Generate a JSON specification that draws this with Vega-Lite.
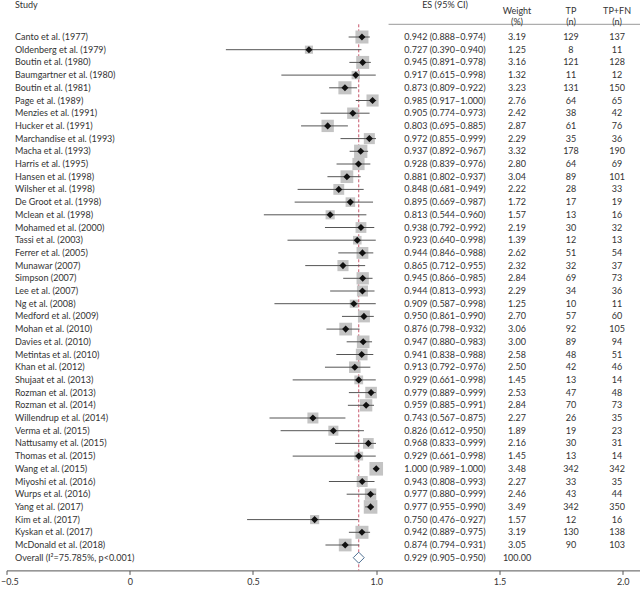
{
  "$schema": "https://vega.github.io/schema/vega-lite/v6.json",
  "autosize": "none",
  "width": 633.5,
  "height": 558.8,
  "padding": {"left": 6.5, "top": 11.6, "right": 0, "bottom": 20.6},
  "background": "white",
  "config": {
    "view": {"stroke": null},
    "text": {"font": "Lato", "fontSize": 9, "color": "#333"},
    "axis": {"grid": false, "labelFont": "Lato", "labelFontSize": 9, "labelColor": "#333", "domainColor": "#555", "tickColor": "#555", "tickSize": 4, "labelPadding": 3}
  },
  "datasets": {
    "rows": [
      {"study": "Canto et al. (1977)", "kind": "study", "es": 0.942, "lo": 0.888, "hi": 0.974, "ci": "0.942 (0.888–0.974)", "w": 3.19, "tp": 129, "n": 137},
      {"study": "Oldenberg et al. (1979)", "kind": "study", "es": 0.727, "lo": 0.390, "hi": 0.940, "ci": "0.727 (0.390–0.940)", "w": 1.25, "tp": 8, "n": 11},
      {"study": "Boutin et al. (1980)", "kind": "study", "es": 0.945, "lo": 0.891, "hi": 0.978, "ci": "0.945 (0.891–0.978)", "w": 3.16, "tp": 121, "n": 128},
      {"study": "Baumgartner et al. (1980)", "kind": "study", "es": 0.917, "lo": 0.615, "hi": 0.998, "ci": "0.917 (0.615–0.998)", "w": 1.32, "tp": 11, "n": 12},
      {"study": "Boutin et al. (1981)", "kind": "study", "es": 0.873, "lo": 0.809, "hi": 0.922, "ci": "0.873 (0.809–0.922)", "w": 3.23, "tp": 131, "n": 150},
      {"study": "Page et al. (1989)", "kind": "study", "es": 0.985, "lo": 0.917, "hi": 1.000, "ci": "0.985 (0.917–1.000)", "w": 2.76, "tp": 64, "n": 65},
      {"study": "Menzies et al. (1991)", "kind": "study", "es": 0.905, "lo": 0.774, "hi": 0.973, "ci": "0.905 (0.774–0.973)", "w": 2.42, "tp": 38, "n": 42},
      {"study": "Hucker et al. (1991)", "kind": "study", "es": 0.803, "lo": 0.695, "hi": 0.885, "ci": "0.803 (0.695–0.885)", "w": 2.87, "tp": 61, "n": 76},
      {"study": "Marchandise et al. (1993)", "kind": "study", "es": 0.972, "lo": 0.855, "hi": 0.999, "ci": "0.972 (0.855–0.999)", "w": 2.29, "tp": 35, "n": 36},
      {"study": "Macha et al. (1993)", "kind": "study", "es": 0.937, "lo": 0.892, "hi": 0.967, "ci": "0.937 (0.892–0.967)", "w": 3.32, "tp": 178, "n": 190},
      {"study": "Harris et al. (1995)", "kind": "study", "es": 0.928, "lo": 0.839, "hi": 0.976, "ci": "0.928 (0.839–0.976)", "w": 2.80, "tp": 64, "n": 69},
      {"study": "Hansen et al. (1998)", "kind": "study", "es": 0.881, "lo": 0.802, "hi": 0.937, "ci": "0.881 (0.802–0.937)", "w": 3.04, "tp": 89, "n": 101},
      {"study": "Wilsher et al. (1998)", "kind": "study", "es": 0.848, "lo": 0.681, "hi": 0.949, "ci": "0.848 (0.681–0.949)", "w": 2.22, "tp": 28, "n": 33},
      {"study": "De Groot et al. (1998)", "kind": "study", "es": 0.895, "lo": 0.669, "hi": 0.987, "ci": "0.895 (0.669–0.987)", "w": 1.72, "tp": 17, "n": 19},
      {"study": "Mclean et al. (1998)", "kind": "study", "es": 0.813, "lo": 0.544, "hi": 0.960, "ci": "0.813 (0.544–0.960)", "w": 1.57, "tp": 13, "n": 16},
      {"study": "Mohamed et al. (2000)", "kind": "study", "es": 0.938, "lo": 0.792, "hi": 0.992, "ci": "0.938 (0.792–0.992)", "w": 2.19, "tp": 30, "n": 32},
      {"study": "Tassi et al. (2003)", "kind": "study", "es": 0.923, "lo": 0.640, "hi": 0.998, "ci": "0.923 (0.640–0.998)", "w": 1.39, "tp": 12, "n": 13},
      {"study": "Ferrer et al. (2005)", "kind": "study", "es": 0.944, "lo": 0.846, "hi": 0.988, "ci": "0.944 (0.846–0.988)", "w": 2.62, "tp": 51, "n": 54},
      {"study": "Munawar (2007)", "kind": "study", "es": 0.865, "lo": 0.712, "hi": 0.955, "ci": "0.865 (0.712–0.955)", "w": 2.32, "tp": 32, "n": 37},
      {"study": "Simpson (2007)", "kind": "study", "es": 0.945, "lo": 0.866, "hi": 0.985, "ci": "0.945 (0.866–0.985)", "w": 2.84, "tp": 69, "n": 73},
      {"study": "Lee et al. (2007)", "kind": "study", "es": 0.944, "lo": 0.813, "hi": 0.993, "ci": "0.944 (0.813–0.993)", "w": 2.29, "tp": 34, "n": 36},
      {"study": "Ng et al. (2008)", "kind": "study", "es": 0.909, "lo": 0.587, "hi": 0.998, "ci": "0.909 (0.587–0.998)", "w": 1.25, "tp": 10, "n": 11},
      {"study": "Medford et al. (2009)", "kind": "study", "es": 0.950, "lo": 0.861, "hi": 0.990, "ci": "0.950 (0.861–0.990)", "w": 2.70, "tp": 57, "n": 60},
      {"study": "Mohan et al. (2010)", "kind": "study", "es": 0.876, "lo": 0.798, "hi": 0.932, "ci": "0.876 (0.798–0.932)", "w": 3.06, "tp": 92, "n": 105},
      {"study": "Davies et al. (2010)", "kind": "study", "es": 0.947, "lo": 0.880, "hi": 0.983, "ci": "0.947 (0.880–0.983)", "w": 3.00, "tp": 89, "n": 94},
      {"study": "Metintas et al. (2010)", "kind": "study", "es": 0.941, "lo": 0.838, "hi": 0.988, "ci": "0.941 (0.838–0.988)", "w": 2.58, "tp": 48, "n": 51},
      {"study": "Khan et al. (2012)", "kind": "study", "es": 0.913, "lo": 0.792, "hi": 0.976, "ci": "0.913 (0.792–0.976)", "w": 2.50, "tp": 42, "n": 46},
      {"study": "Shujaat et al. (2013)", "kind": "study", "es": 0.929, "lo": 0.661, "hi": 0.998, "ci": "0.929 (0.661–0.998)", "w": 1.45, "tp": 13, "n": 14},
      {"study": "Rozman et al. (2013)", "kind": "study", "es": 0.979, "lo": 0.889, "hi": 0.999, "ci": "0.979 (0.889–0.999)", "w": 2.53, "tp": 47, "n": 48},
      {"study": "Rozman et al. (2014)", "kind": "study", "es": 0.959, "lo": 0.885, "hi": 0.991, "ci": "0.959 (0.885–0.991)", "w": 2.84, "tp": 70, "n": 73},
      {"study": "Willendrup et al. (2014)", "kind": "study", "es": 0.743, "lo": 0.567, "hi": 0.875, "ci": "0.743 (0.567–0.875)", "w": 2.27, "tp": 26, "n": 35},
      {"study": "Verma et al. (2015)", "kind": "study", "es": 0.826, "lo": 0.612, "hi": 0.950, "ci": "0.826 (0.612–0.950)", "w": 1.89, "tp": 19, "n": 23},
      {"study": "Nattusamy et al. (2015)", "kind": "study", "es": 0.968, "lo": 0.833, "hi": 0.999, "ci": "0.968 (0.833–0.999)", "w": 2.16, "tp": 30, "n": 31},
      {"study": "Thomas et al. (2015)", "kind": "study", "es": 0.929, "lo": 0.661, "hi": 0.998, "ci": "0.929 (0.661–0.998)", "w": 1.45, "tp": 13, "n": 14},
      {"study": "Wang et al. (2015)", "kind": "study", "es": 1.000, "lo": 0.989, "hi": 1.000, "ci": "1.000 (0.989–1.000)", "w": 3.48, "tp": 342, "n": 342},
      {"study": "Miyoshi et al. (2016)", "kind": "study", "es": 0.943, "lo": 0.808, "hi": 0.993, "ci": "0.943 (0.808–0.993)", "w": 2.27, "tp": 33, "n": 35},
      {"study": "Wurps et al. (2016)", "kind": "study", "es": 0.977, "lo": 0.880, "hi": 0.999, "ci": "0.977 (0.880–0.999)", "w": 2.46, "tp": 43, "n": 44},
      {"study": "Yang et al. (2017)", "kind": "study", "es": 0.977, "lo": 0.955, "hi": 0.990, "ci": "0.977 (0.955–0.990)", "w": 3.49, "tp": 342, "n": 350},
      {"study": "Kim et al. (2017)", "kind": "study", "es": 0.750, "lo": 0.476, "hi": 0.927, "ci": "0.750 (0.476–0.927)", "w": 1.57, "tp": 12, "n": 16},
      {"study": "Kyskan et al. (2017)", "kind": "study", "es": 0.942, "lo": 0.889, "hi": 0.975, "ci": "0.942 (0.889–0.975)", "w": 3.19, "tp": 130, "n": 138},
      {"study": "McDonald et al. (2018)", "kind": "study", "es": 0.874, "lo": 0.794, "hi": 0.931, "ci": "0.874 (0.794–0.931)", "w": 3.05, "tp": 90, "n": 103},
      {"study": "Overall (I²=75.785%, p<0.001)", "kind": "overall", "es": 0.929, "lo": 0.905, "hi": 0.950, "ci": "0.929 (0.905–0.950)", "w": 100.00, "tp": null, "n": null}
    ]
  },
  "data": {"name": "rows"},
  "layer": [
    {
      "data": {"values": [{}]},
      "mark": {"type": "rule", "color": "#c8566a", "strokeWidth": 1, "strokeDash": [3, 2]},
      "encoding": {
        "x": {"datum": 0.929, "type": "quantitative"},
        "y": {"datum": "rule", "type": "nominal", "axis": null},
        "y2": {"datum": "end"}
      }
    },
    {
      "data": {"values": [{}]},
      "mark": {"type": "rule", "color": "#999", "strokeWidth": 1},
      "encoding": {
        "x": {"datum": 1.05, "type": "quantitative"},
        "x2": {"datum": 2.07},
        "y": {"datum": "rule", "type": "nominal", "axis": null}
      }
    },
    {
      "transform": [{"filter": "datum.kind == 'study'"}],
      "mark": {"type": "square", "filled": true, "color": "#c4c4c4", "opacity": 1},
      "encoding": {
        "x": {"field": "es", "type": "quantitative", "title": null,
              "scale": {"domain": [-0.5, 2.07], "nice": false, "zero": false},
              "axis": {"values": [-0.5, 0, 0.5, 1, 1.5, 2], "labelExpr": "datum.value == 0 ? '0' : format(datum.value, '.1f')", "title": null, "labelFlush": true, "labelFlushOffset": 6}},
        "y": {"field": "study", "type": "nominal", "axis": null,
              "scale": {"type": "point", "padding": 0, "domain": ["hdr", "rule",
                "Canto et al. (1977)", "Oldenberg et al. (1979)", "Boutin et al. (1980)", "Baumgartner et al. (1980)", "Boutin et al. (1981)", "Page et al. (1989)", "Menzies et al. (1991)", "Hucker et al. (1991)", "Marchandise et al. (1993)", "Macha et al. (1993)", "Harris et al. (1995)", "Hansen et al. (1998)", "Wilsher et al. (1998)", "De Groot et al. (1998)", "Mclean et al. (1998)", "Mohamed et al. (2000)", "Tassi et al. (2003)", "Ferrer et al. (2005)", "Munawar (2007)", "Simpson (2007)", "Lee et al. (2007)", "Ng et al. (2008)", "Medford et al. (2009)", "Mohan et al. (2010)", "Davies et al. (2010)", "Metintas et al. (2010)", "Khan et al. (2012)", "Shujaat et al. (2013)", "Rozman et al. (2013)", "Rozman et al. (2014)", "Willendrup et al. (2014)", "Verma et al. (2015)", "Nattusamy et al. (2015)", "Thomas et al. (2015)", "Wang et al. (2015)", "Miyoshi et al. (2016)", "Wurps et al. (2016)", "Yang et al. (2017)", "Kim et al. (2017)", "Kyskan et al. (2017)", "McDonald et al. (2018)",
                "Overall (I²=75.785%, p<0.001)", "end"]}},
        "size": {"field": "w", "type": "quantitative", "legend": null, "scale": {"domain": [0, 3.5], "range": [0, 186], "zero": true}}
      }
    },
    {
      "transform": [{"filter": "datum.kind == 'study'"}],
      "mark": {"type": "rule", "color": "#555", "strokeWidth": 1},
      "encoding": {
        "x": {"field": "lo", "type": "quantitative", "title": null},
        "x2": {"field": "hi"},
        "y": {"field": "study", "type": "nominal", "axis": null}
      }
    },
    {
      "transform": [{"filter": "datum.kind == 'study'"}],
      "mark": {"type": "point", "shape": "diamond", "filled": true, "color": "#111", "size": 50, "opacity": 1},
      "encoding": {
        "x": {"field": "es", "type": "quantitative", "title": null},
        "y": {"field": "study", "type": "nominal", "axis": null}
      }
    },
    {
      "transform": [{"filter": "datum.kind == 'overall'"}],
      "mark": {"type": "point", "shape": "diamond", "filled": true, "fill": "white", "stroke": "#4d6f91", "strokeWidth": 1, "size": 121, "opacity": 1},
      "encoding": {
        "x": {"field": "es", "type": "quantitative", "title": null},
        "y": {"field": "study", "type": "nominal", "axis": null}
      }
    },
    {
      "mark": {"type": "text", "align": "left"},
      "encoding": {
        "x": {"datum": -0.4655, "type": "quantitative"},
        "y": {"field": "study", "type": "nominal", "axis": null},
        "text": {"field": "study", "type": "nominal"}
      }
    },
    {
      "mark": {"type": "text", "align": "center"},
      "encoding": {
        "x": {"datum": 1.279, "type": "quantitative"},
        "y": {"field": "study", "type": "nominal", "axis": null},
        "text": {"field": "ci", "type": "nominal"}
      }
    },
    {
      "mark": {"type": "text", "align": "center"},
      "encoding": {
        "x": {"datum": 1.571, "type": "quantitative"},
        "y": {"field": "study", "type": "nominal", "axis": null},
        "text": {"field": "w", "type": "quantitative", "format": ".2f"}
      }
    },
    {
      "transform": [{"filter": "datum.tp != null"}],
      "mark": {"type": "text", "align": "center"},
      "encoding": {
        "x": {"datum": 1.790, "type": "quantitative"},
        "y": {"field": "study", "type": "nominal", "axis": null},
        "text": {"field": "tp", "type": "quantitative", "format": "d"}
      }
    },
    {
      "transform": [{"filter": "datum.n != null"}],
      "mark": {"type": "text", "align": "center"},
      "encoding": {
        "x": {"datum": 1.977, "type": "quantitative"},
        "y": {"field": "study", "type": "nominal", "axis": null},
        "text": {"field": "n", "type": "quantitative", "format": "d"}
      }
    },
    {
      "data": {"values": [{}]},
      "mark": {"type": "text", "align": "left", "text": "Study", "dy": -6.5},
      "encoding": {
        "x": {"datum": -0.4655, "type": "quantitative"},
        "y": {"datum": "hdr", "type": "nominal", "axis": null}
      }
    },
    {
      "data": {"values": [{}]},
      "mark": {"type": "text", "align": "center", "text": "ES (95% CI)", "dy": -6.5},
      "encoding": {
        "x": {"datum": 1.279, "type": "quantitative"},
        "y": {"datum": "hdr", "type": "nominal", "axis": null}
      }
    },
    {
      "data": {"values": [{}]},
      "mark": {"type": "text", "align": "center", "text": ["Weight", "(%)"], "lineHeight": 11, "dy": -1},
      "encoding": {
        "x": {"datum": 1.571, "type": "quantitative"},
        "y": {"datum": "hdr", "type": "nominal", "axis": null}
      }
    },
    {
      "data": {"values": [{}]},
      "mark": {"type": "text", "align": "center", "text": ["TP", "(n)"], "lineHeight": 11, "dy": -1},
      "encoding": {
        "x": {"datum": 1.790, "type": "quantitative"},
        "y": {"datum": "hdr", "type": "nominal", "axis": null}
      }
    },
    {
      "data": {"values": [{}]},
      "mark": {"type": "text", "align": "center", "text": ["TP+FN", "(n)"], "lineHeight": 11, "dy": -1},
      "encoding": {
        "x": {"datum": 1.977, "type": "quantitative"},
        "y": {"datum": "hdr", "type": "nominal", "axis": null}
      }
    }
  ]
}
